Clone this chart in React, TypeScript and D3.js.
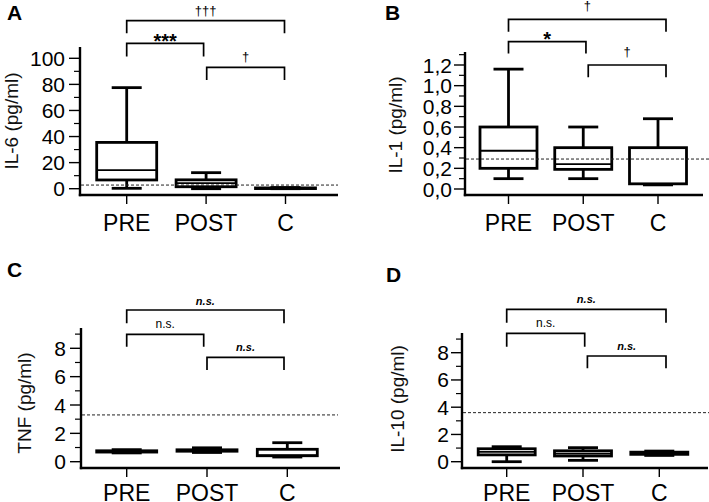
import React from "react";
import * as d3 from "d3";

const categories = ["PRE", "POST", "C"];

// Panel A: IL-6
const il6Min = [0.3, 0, 0];
const il6Q1 = [6.7, 1.5, 0.1];
const il6Median = [14.3, 4.2, 0.3];
const il6Q3 = [35.5, 6.8, 0.6];
const il6Max = [77.5, 12.3, 0.9];
const il6Ticks = [0, 20, 40, 60, 80, 100];
const il6TickLabels = ["0", "20", "40", "60", "80", "100"];
const il6Minor = [10, 30, 50, 70, 90];
const il6Threshold = 2.8;

// Panel B: IL-1
const il1Min = [0.1, 0.1, 0.04];
const il1Q1 = [0.2, 0.19, 0.05];
const il1Median = [0.37, 0.24, 0.05];
const il1Q3 = [0.6, 0.4, 0.4];
const il1Max = [1.16, 0.6, 0.68];
const il1Ticks = [0, 0.2, 0.4, 0.6, 0.8, 1.0, 1.2];
const il1TickLabels = ["0,0", "0,2", "0,4", "0,6", "0,8", "1,0", "1,2"];
const il1Minor = [0.1, 0.3, 0.5, 0.7, 0.9, 1.1, 1.3];
const il1Threshold = 0.29;

// Panel C: TNF
const tnfMin = [0.62, 0.65, 0.33];
const tnfQ1 = [0.68, 0.74, 0.42];
const tnfMedian = [0.72, 0.8, 0.45];
const tnfQ3 = [0.77, 0.84, 0.875];
const tnfMax = [0.85, 0.98, 1.34];
const tnfTicks = [0, 2, 4, 6, 8];
const tnfTickLabels = ["0", "2", "4", "6", "8"];
const tnfMinor = [1, 3, 5, 7, 9];
const tnfThreshold = 3.3;

// Panel D: IL-10
const il10Min = [0.0, 0.1, 0.46];
const il10Q1 = [0.5, 0.42, 0.54];
const il10Median = [0.72, 0.6, 0.6];
const il10Q3 = [0.95, 0.8, 0.7];
const il10Max = [1.1, 1.03, 0.78];
const il10Ticks = [0, 2, 4, 6, 8];
const il10TickLabels = ["0", "2", "4", "6", "8"];
const il10Minor = [1, 3, 5, 7, 9];
const il10Threshold = 3.6;

// Significance comparisons
const il6SigLabels = ["†††", "***", "†"];
const il1SigLabels = ["†", "*", "†"];
const tnfSigLabels = ["n.s.", "n.s.", "n.s."];
const il10SigLabels = ["n.s.", "n.s.", "n.s."];
const sigPairs = [
  ["PRE", "C"],
  ["PRE", "POST"],
  ["POST", "C"],
];

const FONT = "'Liberation Sans', Arial, Helvetica, sans-serif";

type BracketStyle = {
  y: number;
  leg: number;
  dx1: number;
  dx2: number;
  textY: number;
  size: number;
  bold?: boolean;
  italic?: boolean;
};

type PanelCfg = {
  letter: string;
  letterX: number;
  letterY: number;
  title: string;
  titleX: number;
  titleY: number;
  axisX: number;
  axisTop: number;
  axisY: number;
  axisRight: number;
  y0: number;
  yTop: number;
  domMax: number;
  xLeft: number;
  xRight: number;
  boxW: number;
  capW: number;
  ticks: number[];
  tickLabels: string[];
  minor: number[];
  threshold: number;
  dashRight: number;
  mins: number[];
  q1s: number[];
  meds: number[];
  q3s: number[];
  maxs: number[];
  sigLabels: string[];
  brackets: BracketStyle[];
  xLabelY: number;
  labelGap: number;
};

function Panel({ c }: { c: PanelCfg }) {
  const y = d3.scaleLinear().domain([0, c.domMax]).range([c.y0, c.yTop]);
  const x = d3.scalePoint<string>().domain(categories).range([c.xLeft, c.xRight]);
  const minorVisible = c.minor.filter((v) => y(v) >= c.axisTop + 1);
  return (
    <g>
      <text x={c.letterX} y={c.letterY} fontFamily={FONT} fontWeight="bold" fontSize={21} fill="#000">
        {c.letter}
      </text>
      <text
        transform={`translate(${c.titleX},${c.titleY}) rotate(-90)`}
        textAnchor="middle"
        dominantBaseline="central"
        fontFamily={FONT}
        fontSize={19}
        fill="#111"
      >
        {c.title}
      </text>
      {/* boxes */}
      {categories.map((cat, i) => {
        const cx = x(cat) as number;
        return (
          <g key={cat} stroke="#000" fill="none">
            <line x1={cx} x2={cx} y1={y(c.maxs[i])} y2={y(c.q3s[i])} strokeWidth={2.8} />
            <line x1={cx} x2={cx} y1={y(c.q1s[i])} y2={y(c.mins[i])} strokeWidth={2.8} />
            <line x1={cx - c.capW / 2} x2={cx + c.capW / 2} y1={y(c.maxs[i])} y2={y(c.maxs[i])} strokeWidth={2.8} />
            <line x1={cx - c.capW / 2} x2={cx + c.capW / 2} y1={y(c.mins[i])} y2={y(c.mins[i])} strokeWidth={2.8} />
            <rect
              x={cx - c.boxW / 2}
              y={y(c.q3s[i])}
              width={c.boxW}
              height={Math.max(0.01, y(c.q1s[i]) - y(c.q3s[i]))}
              fill="#fff"
              strokeWidth={2.8}
            />
            <line x1={cx - c.boxW / 2} x2={cx + c.boxW / 2} y1={y(c.meds[i])} y2={y(c.meds[i])} strokeWidth={1.8} />
          </g>
        );
      })}
      {/* axes */}
      <line x1={c.axisX} x2={c.axisX} y1={c.axisTop} y2={c.axisY + 1.2} stroke="#000" strokeWidth={2.4} />
      <line x1={c.axisX - 1.2} x2={c.axisRight} y1={c.axisY} y2={c.axisY} stroke="#000" strokeWidth={2.4} />
      {c.ticks.map((t, i) => (
        <g key={"t" + i}>
          <line x1={c.axisX - 11} x2={c.axisX} y1={y(t)} y2={y(t)} stroke="#000" strokeWidth={1.4} />
          <text
            x={c.axisX - c.labelGap}
            y={y(t)}
            textAnchor="end"
            dominantBaseline="central"
            fontFamily={FONT}
            fontSize={21}
            fill="#000"
          >
            {c.tickLabels[i]}
          </text>
        </g>
      ))}
      {minorVisible.map((t, i) => (
        <line key={"m" + i} x1={c.axisX - 6} x2={c.axisX} y1={y(t)} y2={y(t)} stroke="#000" strokeWidth={1.2} />
      ))}
      {categories.map((cat) => (
        <g key={"x" + cat}>
          <line
            x1={x(cat) as number}
            x2={x(cat) as number}
            y1={c.axisY + 1}
            y2={c.axisY + 9}
            stroke="#000"
            strokeWidth={1.4}
          />
          <text
            x={x(cat) as number}
            y={c.xLabelY}
            textAnchor="middle"
            fontFamily={FONT}
            fontSize={23}
            fill="#000"
          >
            {cat}
          </text>
        </g>
      ))}
      {/* significance brackets */}
      {sigPairs.map((p, i) => {
        const b = c.brackets[i];
        const x1 = (x(p[0]) as number) + b.dx1;
        const x2 = (x(p[1]) as number) + b.dx2;
        return (
          <g key={"b" + i}>
            <path
              d={`M${x1},${b.y + b.leg}V${b.y}H${x2}V${b.y + b.leg}`}
              fill="none"
              stroke="#000"
              strokeWidth={1.7}
            />
            <text
              x={(x1 + x2) / 2}
              y={b.textY}
              textAnchor="middle"
              fontFamily={FONT}
              fontSize={b.size}
              fontWeight={b.bold ? "bold" : "normal"}
              fontStyle={b.italic ? "italic" : "normal"}
              fill="#000"
            >
              {c.sigLabels[i]}
            </text>
          </g>
        );
      })}
      {/* detection limit */}
      <line
        x1={c.axisX + 1}
        x2={c.dashRight}
        y1={y(c.threshold)}
        y2={y(c.threshold)}
        stroke="#222"
        strokeWidth={1}
        strokeDasharray="3,2"
      />
    </g>
  );
}

const panels: PanelCfg[] = [
  {
    letter: "A", letterX: 7, letterY: 20,
    title: "IL-6 (pg/ml)", titleX: 11, titleY: 121,
    axisX: 80, axisTop: 47, axisY: 195, axisRight: 338,
    y0: 188.7, yTop: 58.3, domMax: 100,
    xLeft: 126.7, xRight: 285.5, boxW: 60, capW: 30,
    ticks: il6Ticks, tickLabels: il6TickLabels, minor: il6Minor,
    threshold: il6Threshold, dashRight: 338,
    mins: il6Min, q1s: il6Q1, meds: il6Median, q3s: il6Q3, maxs: il6Max,
    sigLabels: il6SigLabels,
    brackets: [
      { y: 20.7, leg: 12.5, dx1: 0, dx2: -1, textY: 15, size: 13 },
      { y: 43.3, leg: 13.3, dx1: 0, dx2: -2.5, textY: 48, size: 20, bold: true },
      { y: 67.3, leg: 12.7, dx1: 0.6, dx2: -1, textY: 61, size: 13 },
    ],
    xLabelY: 230.5, labelGap: 15,
  },
  {
    letter: "B", letterX: 385, letterY: 20,
    title: "IL-1 (pg/ml)", titleX: 395, titleY: 125,
    axisX: 465, axisTop: 52, axisY: 195, axisRight: 703,
    y0: 189, yTop: 65, domMax: 1.2,
    xLeft: 508.5, xRight: 658, boxW: 57, capW: 30,
    ticks: il1Ticks, tickLabels: il1TickLabels, minor: il1Minor,
    threshold: il1Threshold, dashRight: 709,
    mins: il1Min, q1s: il1Q1, meds: il1Median, q3s: il1Q3, maxs: il1Max,
    sigLabels: il1SigLabels,
    brackets: [
      { y: 19.3, leg: 12.4, dx1: 0, dx2: 8, textY: 10, size: 13 },
      { y: 41.7, leg: 11.7, dx1: 0, dx2: 2.7, textY: 45.5, size: 20, bold: true },
      { y: 65, leg: 12.3, dx1: 5, dx2: 8, textY: 56, size: 13 },
    ],
    xLabelY: 230.5, labelGap: 13,
  },
  {
    letter: "C", letterX: 7, letterY: 277,
    title: "TNF (pg/ml)", titleX: 24, titleY: 403,
    axisX: 81, axisTop: 328, axisY: 468, axisRight: 340,
    y0: 461.7, yTop: 348.3, domMax: 8,
    xLeft: 126.7, xRight: 287.3, boxW: 60, capW: 30,
    ticks: tnfTicks, tickLabels: tnfTickLabels, minor: tnfMinor,
    threshold: tnfThreshold, dashRight: 338,
    mins: tnfMin, q1s: tnfQ1, meds: tnfMedian, q3s: tnfQ3, maxs: tnfMax,
    sigLabels: tnfSigLabels,
    brackets: [
      { y: 310, leg: 13.3, dx1: 0, dx2: -3.3, textY: 305, size: 11, bold: true, italic: true },
      { y: 334.3, leg: 12.4, dx1: 0, dx2: -3.3, textY: 328.3, size: 12 },
      { y: 357.3, leg: 12.7, dx1: 0, dx2: -3.3, textY: 351, size: 11, bold: true, italic: true },
    ],
    xLabelY: 500.5, labelGap: 15,
  },
  {
    letter: "D", letterX: 386, letterY: 282,
    title: "IL-10 (pg/ml)", titleX: 397.5, titleY: 399,
    axisX: 462, axisTop: 333, axisY: 468, axisRight: 708,
    y0: 461.7, yTop: 352.7, domMax: 8,
    xLeft: 506.7, xRight: 659.3, boxW: 57, capW: 30,
    ticks: il10Ticks, tickLabels: il10TickLabels, minor: il10Minor,
    threshold: il10Threshold, dashRight: 709,
    mins: il10Min, q1s: il10Q1, meds: il10Median, q3s: il10Q3, maxs: il10Max,
    sigLabels: il10SigLabels,
    brackets: [
      { y: 309.3, leg: 13.4, dx1: 0, dx2: 6.7, textY: 303.3, size: 11, bold: true, italic: true },
      { y: 333.3, leg: 13.4, dx1: 0, dx2: 1.7, textY: 327.3, size: 12 },
      { y: 356, leg: 12.3, dx1: 4.4, dx2: 6.7, textY: 350, size: 11, bold: true, italic: true },
    ],
    xLabelY: 500.5, labelGap: 13,
  },
];

export default function App() {
  return (
    <svg
      width={709}
      height={502}
      viewBox="0 0 709 502"
      style={{ position: "absolute", left: 0, top: 0, background: "#fff" }}
    >
      <rect width={709} height={502} fill="#fff" />
      {panels.map((p) => (
        <Panel key={p.letter} c={p} />
      ))}
    </svg>
  );
}
